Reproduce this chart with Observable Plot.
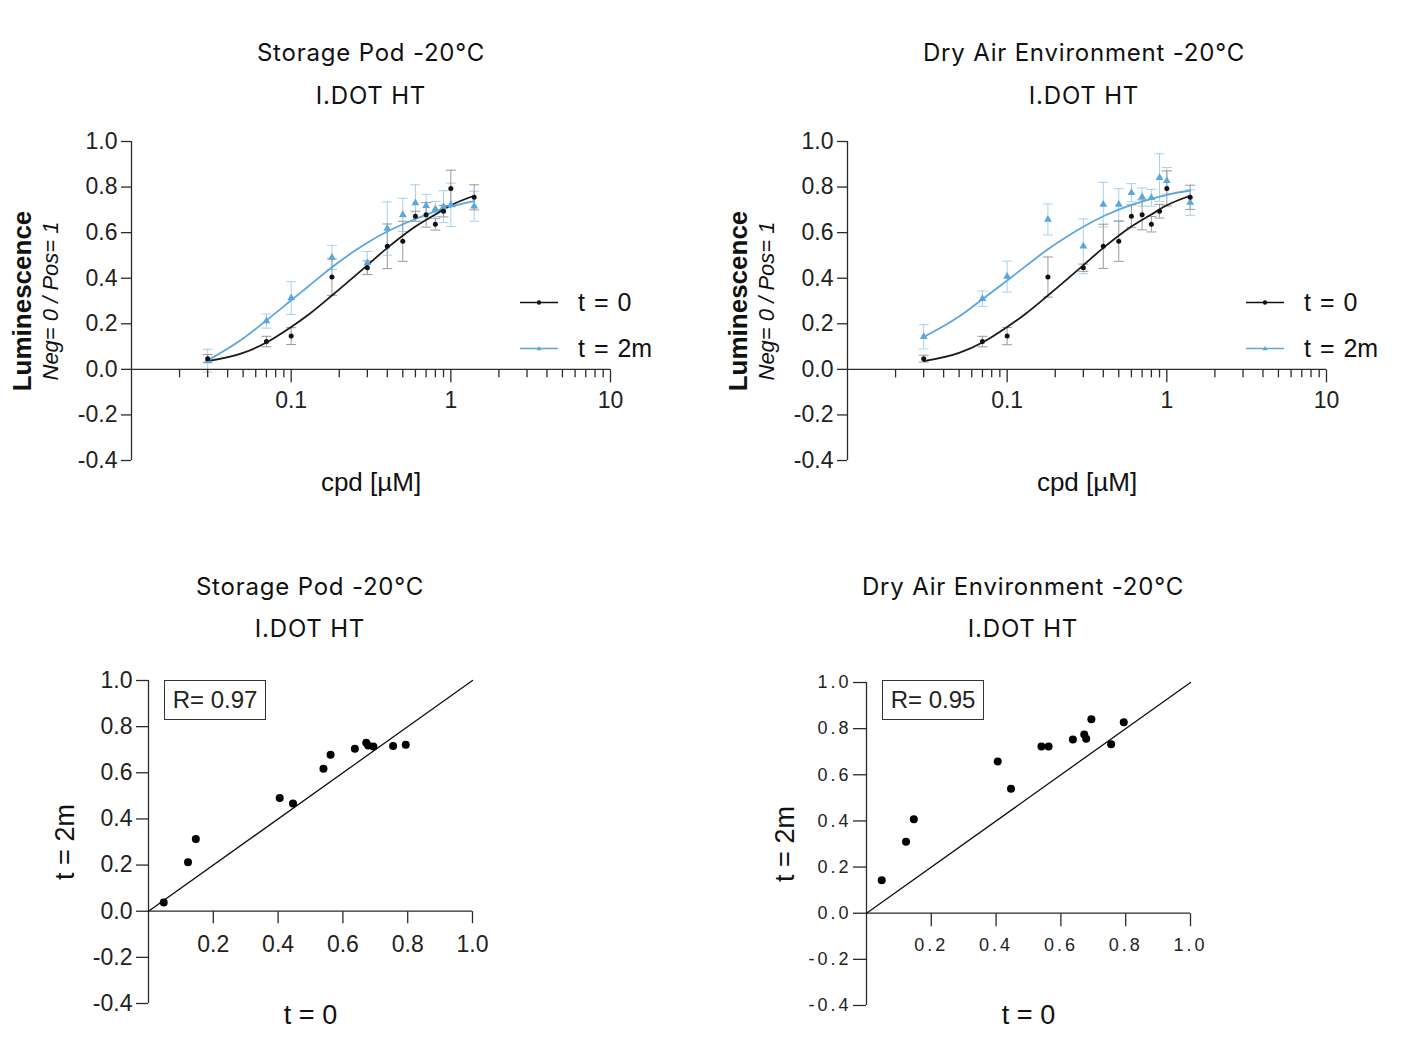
<!DOCTYPE html>
<html>
<head>
<meta charset="utf-8">
<script src="https://cdn.jsdelivr.net/npm/d3@7"></script>
<script src="https://cdn.jsdelivr.net/npm/@observablehq/plot@0.6"></script>
<style>
  html, body { margin: 0; padding: 0; background: #fff; }
  body { width: 1408px; height: 1060px; position: relative; overflow: hidden; font-family: "Liberation Sans", Arial, sans-serif; }
  .panel { position: absolute; }
  .panel svg { max-width: none !important; }
  .title { position: absolute; font-family: Inter, "Noto Sans", sans-serif; font-weight: 400; font-size: 24px; letter-spacing: 0.8px; color: #111; white-space: nowrap; transform: translate(-50%, -50%); }
  .leg { position: absolute; display: flex; align-items: center; font-family: "Liberation Sans", Arial, sans-serif; font-size: 25px; word-spacing: 2px; color: #111; white-space: nowrap; transform: translateY(-50%); }
  .leg svg { margin-right: 20px; }
  .rbox { position: absolute; border: 1.5px solid #333; box-sizing: border-box; display: flex; align-items: center; justify-content: center; font-family: "Liberation Sans", Arial, sans-serif; font-size: 24px; color: #222; background: #fff; }
  .spaced text { letter-spacing: 3px; }
  .spaced g[font-size="27"] text { letter-spacing: 0px; }
</style>
</head>
<body>
<script>
// ---------------- data ----------------
const conc       = [0.03, 0.07, 0.1, 0.18, 0.3, 0.4, 0.5, 0.6, 0.7, 0.8, 0.9, 1.0, 1.4];
const t0Mean     = [0.047, 0.122, 0.146, 0.405, 0.446, 0.540, 0.562, 0.672, 0.678, 0.637, 0.694, 0.794, 0.755];
const podT0Sd    = [0.018, 0.023, 0.037, 0.080, 0.030, 0.098, 0.088, 0.022, 0.054, 0.026, 0.025, 0.080, 0.055];
const pod2mMean  = [0.038, 0.212, 0.313, 0.491, 0.467, 0.618, 0.678, 0.730, 0.718, 0.704, 0.714, 0.722, 0.716];
const pod2mSd    = [0.050, 0.031, 0.072, 0.053, 0.050, 0.117, 0.073, 0.080, 0.050, 0.033, 0.070, 0.095, 0.066];
const dryT0Sd    = [0.015, 0.023, 0.038, 0.088, 0.016, 0.097, 0.088, 0.050, 0.066, 0.034, 0.030, 0.077, 0.053];
const dry2mMean  = [0.143, 0.310, 0.407, 0.658, 0.540, 0.723, 0.723, 0.775, 0.756, 0.753, 0.841, 0.828, 0.732];
const dry2mSd    = [0.053, 0.034, 0.068, 0.068, 0.120, 0.098, 0.070, 0.040, 0.040, 0.037, 0.105, 0.058, 0.056];

// fitted curves
const fitConc    = [0.03, 0.05, 0.07, 0.1, 0.13, 0.18, 0.25, 0.3, 0.4, 0.6, 0.8, 1.0, 1.4];
const fitT0      = [0.036, 0.072, 0.118, 0.186, 0.243, 0.324, 0.409, 0.457, 0.533, 0.627, 0.680, 0.720, 0.762];
const fitPod2m   = [0.039, 0.135, 0.215, 0.303, 0.368, 0.448, 0.520, 0.556, 0.605, 0.660, 0.693, 0.714, 0.738];
const fitDry2m   = [0.142, 0.232, 0.308, 0.390, 0.452, 0.527, 0.593, 0.626, 0.672, 0.722, 0.748, 0.766, 0.785];

const yTicks       = [-0.4, -0.2, 0.0, 0.2, 0.4, 0.6, 0.8, 1.0];
const xMajorTicks  = [0.1, 1, 10];
const xMinorTicks  = [0.02, 0.03, 0.04, 0.05, 0.06, 0.07, 0.08, 0.09, 0.2, 0.3, 0.4, 0.5, 0.6, 0.7, 0.8, 0.9, 2, 3, 4, 5, 6, 7, 8, 9];
const scatterXTicks = [0.2, 0.4, 0.6, 0.8, 1.0];
const scatterDomain = [0, 1];
const doseDomain   = [0.01, 10];
const yDomain      = [-0.4, 1.0];
const rPod = "R= 0.97";
const rDry = "R= 0.95";

// ---------------- styles ----------------
const BLUE = "#5aa7e0";
const BLUE_ERR = "#a8d0ef";
const GRAY_ERR = "#9a9a9a";
const AXIS = "#2a2a2a";
const FONT = "'Liberation Sans', Arial, sans-serif";

const vline = (len) => ({ draw(ctx) { ctx.moveTo(0, 0); ctx.lineTo(0, len); } });
const capSym = { draw(ctx) { ctx.moveTo(-5, 0); ctx.lineTo(5, 0); } };
const fmt = d => d.toFixed(1);

function place(node, left, top) {
  const div = document.createElement("div");
  div.className = "panel";
  div.style.left = left + "px";
  div.style.top = top + "px";
  div.appendChild(node);
  document.body.appendChild(div);
}
function addTitle(text, x, y) {
  const d = document.createElement("div");
  d.className = "title";
  d.textContent = text;
  d.style.left = x + "px";
  d.style.top = y + "px";
  document.body.appendChild(d);
}
function addLegend(x, y, color, marker, label) {
  const d = document.createElement("div");
  d.className = "leg";
  d.style.left = x + "px";
  d.style.top = y + "px";
  const m = marker === "dot"
    ? `<circle cx="19" cy="5" r="2.2" fill="${color}"/>`
    : `<path d="M19,2.4 L21.6,6.8 L16.4,6.8 Z" fill="${color}"/>`;
  d.innerHTML = `<svg width="38" height="10"><line x1="0" x2="38" y1="5" y2="5" stroke="${color}" stroke-width="1.5"/>${m}</svg><span>${label}</span>`;
  document.body.appendChild(d);
}
function addRBox(text, x, y) {
  const d = document.createElement("div");
  d.className = "rbox";
  d.textContent = text;
  d.style.left = x + "px";
  d.style.top = y + "px";
  d.style.width = "102px";
  d.style.height = "40px";
  document.body.appendChild(d);
}

function doseChart(t0Sd, m2, sd2, fit2) {
  const rows = conc.map((c, i) => ({ c, m0: t0Mean[i], s0: t0Sd[i], m2: m2[i], s2: sd2[i] }));
  const fit = fitConc.map((c, i) => ({ c, f0: fitT0[i], f2: fit2[i] }));
  return Plot.plot({
    width: 680, height: 400,
    marginLeft: 131, marginRight: 70, marginTop: 21, marginBottom: 60,
    style: { fontFamily: FONT, fontSize: "23px", color: "#222", background: "transparent", overflow: "visible" },
    x: { type: "log", domain: doseDomain, axis: null },
    y: { domain: yDomain, axis: null },
    marks: [
      // error bars
      Plot.ruleX(rows, { x: "c", y1: d => d.m2 - d.s2, y2: d => d.m2 + d.s2, stroke: BLUE_ERR, strokeWidth: 1 }),
      Plot.dot(rows, { x: "c", y: d => d.m2 + d.s2, symbol: capSym, stroke: BLUE_ERR, fill: "none", strokeWidth: 1 }),
      Plot.dot(rows, { x: "c", y: d => d.m2 - d.s2, symbol: capSym, stroke: BLUE_ERR, fill: "none", strokeWidth: 1 }),
      Plot.ruleX(rows, { x: "c", y1: d => d.m0 - d.s0, y2: d => d.m0 + d.s0, stroke: GRAY_ERR, strokeWidth: 1 }),
      Plot.dot(rows, { x: "c", y: d => d.m0 + d.s0, symbol: capSym, stroke: GRAY_ERR, fill: "none", strokeWidth: 1 }),
      Plot.dot(rows, { x: "c", y: d => d.m0 - d.s0, symbol: capSym, stroke: GRAY_ERR, fill: "none", strokeWidth: 1 }),
      // axes
      Plot.ruleY([0], { stroke: AXIS, strokeWidth: 1.3 }),
      Plot.ruleX([doseDomain[0]], { stroke: AXIS, strokeWidth: 1.3 }),
      Plot.axisY({ ticks: yTicks, tickSize: 10, tickPadding: 4, tickFormat: fmt, label: null, stroke: AXIS, strokeWidth: 1.3 }),
      Plot.dot(xMinorTicks, { x: d => d, y: 0, symbol: vline(8), stroke: AXIS, fill: "none", strokeWidth: 1.3 }),
      Plot.dot(xMajorTicks, { x: d => d, y: 0, symbol: vline(13), stroke: AXIS, fill: "none", strokeWidth: 1.3 }),
      Plot.text(xMajorTicks, { x: d => d, y: 0, dy: 31, text: d => String(d), fill: "#222", lineAnchor: "middle" }),
      // fitted curves
      Plot.line(fit, { x: "c", y: "f2", stroke: BLUE, strokeWidth: 1.8, curve: "monotone-x" }),
      Plot.line(fit, { x: "c", y: "f0", stroke: "#1a1a1a", strokeWidth: 1.8, curve: "monotone-x" }),
      // points
      Plot.dot(rows, { x: "c", y: "m2", symbol: "triangle", r: 2.9, fill: BLUE, stroke: "none" }),
      Plot.dot(rows, { x: "c", y: "m0", r: 2.5, fill: "#111", stroke: "none" }),
      // axis titles
      Plot.text(["Luminescence"], { text: d => d, frameAnchor: "left", dx: -109, rotate: -90, textAnchor: "middle", lineAnchor: "middle", fontSize: 26, fontWeight: "bold", fill: "#111" }),
      Plot.text(["Neg= 0 / Pos= 1"], { text: d => d, frameAnchor: "left", dx: -81, rotate: -90, textAnchor: "middle", lineAnchor: "middle", fontSize: 22, fontStyle: "italic", fill: "#111" }),
      Plot.text(["cpd [µM]"], { text: d => d, frameAnchor: "bottom", dy: 22, lineAnchor: "middle", fontSize: 26, fill: "#111" })
    ]
  });
}

function scatterChart(m2, cfg) {
  const pts = t0Mean.map((v, i) => ({ x: v, y: m2[i] }));
  return Plot.plot({
    className: cfg.cls,
    width: 520, height: 400,
    marginLeft: cfg.ml, marginRight: cfg.mr, marginTop: cfg.mt, marginBottom: cfg.mb,
    style: { fontFamily: cfg.font, fontSize: cfg.fontSize, color: "#222", background: "transparent", overflow: "visible" },
    x: { domain: scatterDomain, axis: null },
    y: { domain: yDomain, axis: null },
    marks: [
      Plot.ruleY([0], { stroke: AXIS, strokeWidth: 1.3 }),
      Plot.ruleX([scatterDomain[0]], { stroke: AXIS, strokeWidth: 1.3 }),
      Plot.axisY({ ticks: yTicks, tickSize: cfg.tick, tickPadding: cfg.pad, tickFormat: fmt, label: null, stroke: AXIS, strokeWidth: 1.3 }),
      Plot.dot(scatterXTicks, { x: d => d, y: 0, symbol: vline(cfg.tick), stroke: AXIS, fill: "none", strokeWidth: 1.3 }),
      Plot.text(scatterXTicks, { x: d => d, y: 0, dy: cfg.xdy, text: fmt, fill: "#222", lineAnchor: "middle" }),
      Plot.line(scatterDomain, { x: d => d, y: d => d, stroke: "#111", strokeWidth: 1.3 }),
      Plot.dot(pts, { x: "x", y: "y", r: 4, fill: "#000", stroke: "none" }),
      Plot.text(["t = 2m"], { text: d => d, frameAnchor: "left", dx: cfg.ylx, rotate: -90, textAnchor: "middle", lineAnchor: "middle", fontSize: 27, fill: "#111", fontFamily: FONT }),
      Plot.text(["t = 0"], { text: d => d, frameAnchor: "bottom", dy: cfg.xly, lineAnchor: "middle", fontSize: 27, fill: "#111", fontFamily: FONT })
    ]
  });
}

// ---------------- layout ----------------
addTitle("Storage Pod -20°C", 371, 52);
addTitle("I.DOT HT", 371, 95);
addTitle("Dry Air Environment -20°C", 1084, 52);
addTitle("I.DOT HT", 1084, 95);
addTitle("Storage Pod -20°C", 310, 586);
addTitle("I.DOT HT", 310, 628);
addTitle("Dry Air Environment -20°C", 1023, 586);
addTitle("I.DOT HT", 1023, 628);

place(doseChart(podT0Sd, pod2mMean, pod2mSd, fitPod2m), 0, 120);
place(doseChart(dryT0Sd, dry2mMean, dry2mSd, fitDry2m), 716, 120);

place(scatterChart(pod2mMean, { cls: "plain", ml: 148, mr: 48, mt: 20, mb: 57, tick: 12, pad: 4, xdy: 33, ylx: -83, xly: 12, font: FONT, fontSize: "23px" }), 0, 660);
place(scatterChart(dry2mMean, { cls: "spaced", ml: 150, mr: 46, mt: 22, mb: 55, tick: 13, pad: 2, xdy: 32, ylx: -81, xly: 10, font: FONT, fontSize: "18px" }), 716, 660);

addLegend(520, 302, "#111", "dot", "t = 0");
addLegend(520, 348, BLUE, "tri", "t = 2m");
addLegend(1246, 302, "#111", "dot", "t = 0");
addLegend(1246, 348, BLUE, "tri", "t = 2m");

addRBox(rPod, 164, 680);
addRBox(rDry, 882, 680);
</script>
</body>
</html>
